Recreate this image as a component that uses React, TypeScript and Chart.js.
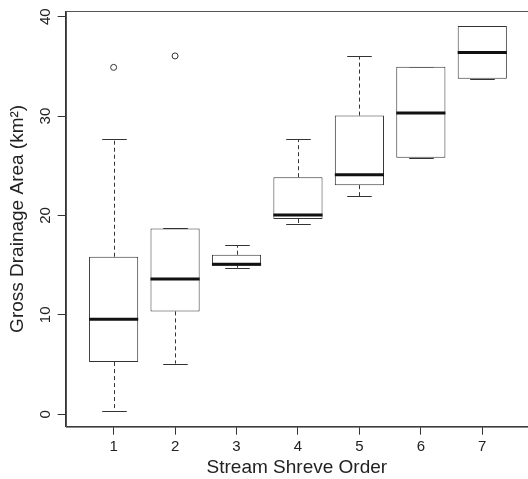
import React, { useEffect, useRef } from "react";
import { Chart, registerables } from "chart.js";

Chart.register(...registerables);

// ---- data ----
const categories = [1, 2, 3, 4, 5, 6, 7];
const whiskerLow = [0.3, 5.1, 14.75, 19.15, 21.95, 25.8, 33.75];
const q1 = [5.25, 10.35, 14.95, 19.65, 23.05, 25.8, 33.75];
const median = [9.55, 13.6, 15.1, 20.05, 24.1, 30.3, 36.4];
const q3 = [15.85, 18.7, 16.05, 23.85, 30.05, 34.95, 39.05];
const whiskerHigh = [27.7, 18.7, 17.0, 27.7, 36.0, 34.95, 39.05];
const outlierX = [1, 2];
const outlierY = [34.9, 36.05];
const xTicks = [1, 2, 3, 4, 5, 6, 7];
const yTicks = [0, 10, 20, 30, 40];

const X_MIN = 0.22;
const X_MAX = 7.744;
const Y_MIN = -1.25;
const Y_MAX = 40.57;

const FONT = "'Liberation Sans', Arial, Helvetica, sans-serif";
const INK = "#222";
const AXIS = "#333";

const boxPlugin = {
  id: "boxExtras",
  beforeDatasetsDraw(chart: any) {
    const { ctx, chartArea, scales } = chart;
    const xs = scales.x;
    const ys = scales.y;
    const meta = chart.getDatasetMeta(0);
    ctx.save();
    // plot frame
    ctx.strokeStyle = "#555";
    ctx.lineWidth = 1;
    ctx.strokeRect(
      Math.round(chartArea.left) + 0.5,
      Math.round(chartArea.top) + 0.5,
      chartArea.right - chartArea.left + 4,
      chartArea.bottom - chartArea.top
    );
    // whiskers
    ctx.strokeStyle = AXIS;
    categories.forEach((c, i) => {
      const x = Math.round(xs.getPixelForValue(c)) + 0.5;
      const el = meta.data[i];
      const w = el ? el.width : 49;
      const cap = w / 4;
      const yLo = ys.getPixelForValue(whiskerLow[i]);
      const yQ1 = ys.getPixelForValue(q1[i]);
      const yQ3 = ys.getPixelForValue(q3[i]);
      const yHi = ys.getPixelForValue(whiskerHigh[i]);
      ctx.setLineDash([4, 3]);
      ctx.beginPath();
      if (yLo - yQ1 > 0.5) {
        ctx.moveTo(x, yQ1);
        ctx.lineTo(x, yLo);
      }
      if (yQ3 - yHi > 0.5) {
        ctx.moveTo(x, yQ3);
        ctx.lineTo(x, yHi);
      }
      ctx.stroke();
      ctx.setLineDash([]);
      ctx.beginPath();
      const yl = Math.round(yLo) + 0.5;
      const yh = Math.round(yHi) + 0.5;
      ctx.moveTo(x - cap, yl);
      ctx.lineTo(x + cap, yl);
      ctx.moveTo(x - cap, yh);
      ctx.lineTo(x + cap, yh);
      ctx.stroke();
    });
    ctx.restore();
  },
  afterDatasetsDraw(chart: any) {
    const { ctx, scales } = chart;
    const xs = scales.x;
    const ys = scales.y;
    const meta = chart.getDatasetMeta(0);
    ctx.save();
    ctx.strokeStyle = "#111";
    ctx.lineWidth = 3;
    categories.forEach((c, i) => {
      const x = xs.getPixelForValue(c);
      const el = meta.data[i];
      const w = el ? el.width : 49;
      const y = ys.getPixelForValue(median[i]);
      ctx.beginPath();
      ctx.moveTo(x - w / 2, y);
      ctx.lineTo(x + w / 2, y);
      ctx.stroke();
    });
    ctx.restore();
  },
};

export default function App() {
  const ref = useRef<HTMLCanvasElement | null>(null);

  useEffect(() => {
    if (!ref.current) return;
    const chart = new Chart(ref.current, {
      type: "bar",
      data: {
        datasets: [
          {
            type: "bar",
            data: categories.map((c, i) => ({ x: c, y: [q1[i], q3[i]] })),
            backgroundColor: "#ffffff",
            borderColor: AXIS,
            borderWidth: 1,
            borderSkipped: false,
            barPercentage: 0.8,
            categoryPercentage: 1.0,
          } as any,
          {
            type: "scatter",
            data: outlierX.map((x, i) => ({ x, y: outlierY[i] })),
            pointStyle: "circle",
            pointRadius: 3,
            pointHoverRadius: 3,
            pointBorderWidth: 1,
            pointBorderColor: AXIS,
            pointBackgroundColor: "rgba(0,0,0,0)",
            showLine: false,
          } as any,
        ],
      },
      options: {
        animation: false,
        responsive: true,
        maintainAspectRatio: false,
        layout: {
          autoPadding: false,
          padding: { top: 11, left: 0, right: 0, bottom: 0 },
        },
        plugins: {
          legend: { display: false },
          tooltip: { enabled: false },
        },
        scales: {
          x: {
            type: "linear",
            position: "bottom",
            min: X_MIN,
            max: X_MAX,
            offset: false,
            afterBuildTicks: (s: any) => {
              s.ticks = xTicks.map((v) => ({ value: v }));
            },
            afterFit: (s: any) => {
              s.height = 52.3;
              s.paddingLeft = 0;
              s.paddingRight = 0;
            },
            grid: {
              display: true,
              offset: false,
              drawOnChartArea: false,
              drawTicks: true,
              tickLength: 8,
              color: AXIS,
              lineWidth: 1,
            },
            border: { display: true, color: AXIS, width: 1 },
            ticks: {
              color: INK,
              font: { family: FONT, size: 15 },
              padding: 3,
              autoSkip: false,
              minRotation: 0,
              maxRotation: 0,
              callback: (v: any) => String(v),
            },
            title: {
              display: true,
              text: "Stream Shreve Order",
              color: INK,
              font: { family: FONT, size: 19 },
              padding: { top: 0, bottom: 0 },
            },
          },
          y: {
            type: "linear",
            min: Y_MIN,
            max: Y_MAX,
            afterBuildTicks: (s: any) => {
              s.ticks = yTicks.map((v) => ({ value: v }));
            },
            afterFit: (s: any) => {
              s.width = 65.7;
              s.paddingTop = 0;
              s.paddingBottom = 0;
            },
            grid: {
              display: true,
              drawOnChartArea: false,
              drawTicks: true,
              tickLength: 8,
              color: AXIS,
              lineWidth: 1,
            },
            border: { display: true, color: AXIS, width: 1 },
            ticks: {
              color: INK,
              font: { family: FONT, size: 15 },
              padding: 3,
              minRotation: 90,
              maxRotation: 90,
              crossAlign: "center",
              callback: (v: any) => String(v),
            },
            title: {
              display: true,
              text: "Gross Drainage Area (km²)",
              color: INK,
              font: { family: FONT, size: 19 },
              padding: { top: 6.6, bottom: 0 },
            },
          },
        },
      } as any,
      plugins: [boxPlugin],
    });
    return () => chart.destroy();
  }, []);

  return (
    <div
      style={{
        position: "fixed",
        left: 0,
        top: 0,
        width: 528,
        height: 479,
        background: "#fff",
      }}
    >
      <canvas ref={ref} />
    </div>
  );
}
